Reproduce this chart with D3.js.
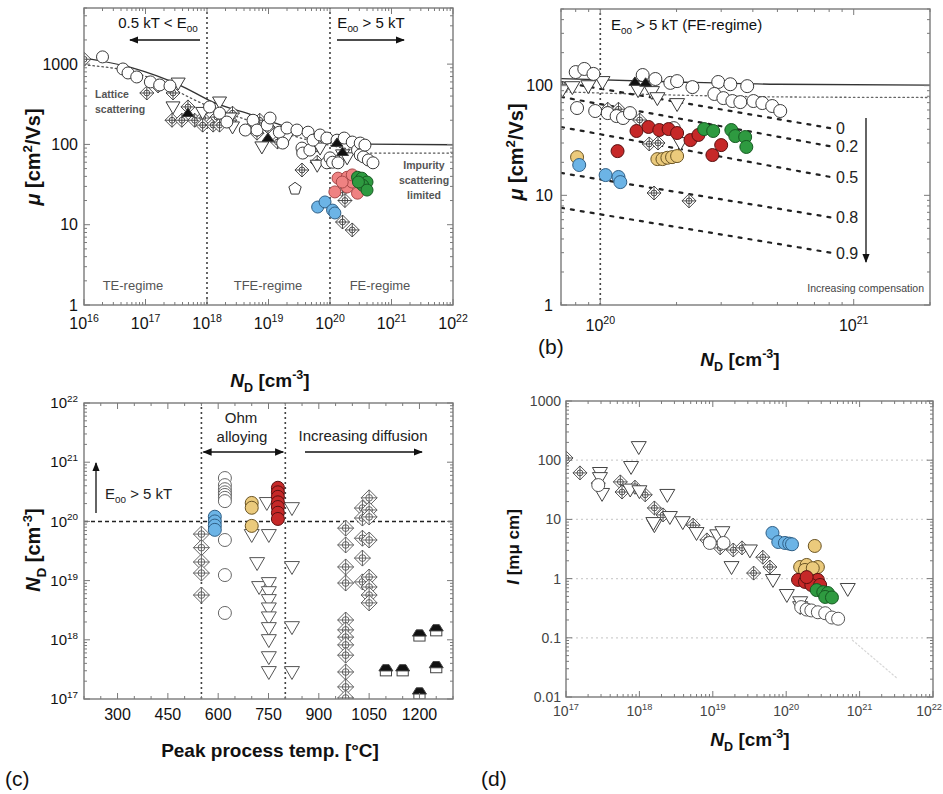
<!DOCTYPE html>
<html>
<head>
<meta charset="utf-8">
<script src="https://cdn.jsdelivr.net/npm/d3@7"></script>
<style>
  body { margin: 0; background: #fff; }
  svg { font-family: "Liberation Sans", Arial, sans-serif; }
</style>
</head>
<body>
<svg id="fig" width="943" height="794"></svg>
<script>
// ---------------- data: (a) mobility vs N_D ----------------
const aCircles = [[2.0e16,1230],[4.3e16,870],[5.2e16,776],[7.2e16,692],[1.2e17,600],[1.7e17,550],[2.5e17,535],
  [1.1e18,293],[1.6e18,245],[2.1e18,190],[4.2e18,151],[5.6e18,200],[6.5e18,151],[9.5e18,174],[1.06e19,213],
  [1.5e19,142],[1.7e19,104],[2.0e19,160],[2.9e19,151],[3.5e19,90],[3.6e19,78],[4.4e19,142],[4.7e19,85],
  [5.3e19,113],[6.9e19,131],[8.9e19,120],[8.9e19,59],[1.0e20,68],[1.1e20,60],[1.3e20,113],[1.35e20,59],
  [1.7e20,120],[2.3e20,107],[2.8e20,85],[3.1e20,104],[3.1e20,74],[3.5e20,70],[3.7e20,98],[4.2e20,64],[5.0e20,59]];
const aTriangles = [[3.4e17,580],[2.8e17,293],[8.5e17,250],[1.6e18,337],[2.35e18,213],[2.6e18,165],[7.8e18,93],
  [2.0e19,123],[6.2e19,55],[6.9e19,90],[1.6e20,74],[1.9e20,68]];
const aDiamonds = [[1.0e16,1150],[1.05e17,437],[1.6e17,535],[2.8e17,437],[2.7e17,200],[3.9e17,200],[4.9e17,293],
  [6.3e17,200],[8.5e17,213],[8.5e17,174],[1.26e18,174],[1.45e18,219],[1.6e18,174],[2.35e18,200],[2.6e18,245],
  [5.6e18,174],[6.5e18,138],[7.2e18,200],[9.8e18,165],[1.4e19,107],[3.5e19,48],[6.2e19,98],[6.2e19,60],
  [1.6e20,27],[1.75e20,20],[1.6e20,10.8],[2.3e20,8.6]];
const aBlackTri = [[4.9e17,245],[9.8e18,120],[1.3e20,104],[1.6e20,80]];
const aPentagon = [[2.7e19,28]];
const aPink = [[1.35e20,38],[1.9e20,39],[1.2e20,25.6],[1.9e20,29.5],[2.8e20,24.7],[2.3e20,34],[1.58e20,34],[2.3e20,41.7]];
const aGreen = [[2.8e20,39],[3.3e20,38],[4.0e20,34],[3.4e20,31],[4.0e20,27],[2.9e20,34]];
const aBlue = [[6.3e19,16.6],[8.3e19,19.2],[1.1e20,15.2],[1.2e20,14]];
const aSolid = [[1e16,1190],[6.3e16,894],[3.6e17,549],[1.25e18,337],[5.6e18,232],[2.0e19,165],[6.9e19,131],
  [2.4e20,107],[4.0e20,101],[1e22,99]];
const aDotted = [[1e16,980],[6e16,800],[1.25e18,284],[5.6e18,190],[2.0e19,135],[6.9e19,104],[2.4e20,85],
  [4.3e20,78],[1e22,78]];
const aRegimes = [1e18, 1e20];

// ---------------- data: (b) zoom on FE regime ----------------
const bCircles = [[8.0e19,133],[8.65e19,142],[9.4e19,128],[8.1e19,62.5],[9.55e19,58.7],[1.07e20,56.2],[1.16e20,52.8],
  [1.23e20,50.7],[1.31e20,56.2],[1.47e20,125],[1.65e20,115],[1.89e20,106],[2.01e20,110],[2.31e20,97],[2.92e20,108],
  [3.26e20,103],[3.8e20,99],[2.82e20,84],[3.06e20,77],[3.32e20,72.4],[3.57e20,70.8],[4.02e20,72.4],[4.36e20,69.4],
  [4.77e20,65.2],[5.13e20,58.7],[1.95e20,41]];
const bTriangles = [[7.1e19,92],[7.76e19,97],[8.97e19,99],[1.02e20,108],[1.41e20,91],[1.6e20,87.5],[1.68e20,77],
  [2.01e20,68],[2.07e20,30]];
const bBlackTri = [[1.37e20,108],[1.51e20,106]];
const bDiamonds = [[7.1e19,95],[1.07e20,61],[1.18e20,61],[1.43e20,48.6],[1.56e20,29.4],[1.69e20,30],[1.63e20,10.5],[2.24e20,8.9]];
const bRed = [[1.39e20,38.6],[1.55e20,42],[1.71e20,39.4],[1.86e20,40.2],[2.01e20,37],[2.27e20,31.9],[2.44e20,35.5],
  [3.0e20,28.7],[2.77e20,23.3],[1.17e20,25.3]];
const bGreen = [[2.57e20,40.2],[2.79e20,38.6],[3.29e20,39.4],[3.41e20,34.7],[3.73e20,34],[3.77e20,27.6]];
const bYellow = [[8.1e19,22.3],[1.68e20,21.4],[1.76e20,21.4],[1.84e20,22],[1.92e20,22.3],[2.01e20,22.8]];
const bBlue = [[8.26e19,18.9],[1.05e20,15.3],[1.18e20,14.7],[1.2e20,13.2]];
const bSolid = [[7e19,116],[2e20,108],[5e20,103],[2e21,101]];
const bDotted = [[7e19,88],[2e20,82],[5e20,79],[2e21,78]];
const compLabels = ['0', '0.2', '0.5', '0.8', '0.9'];
const compN = [7e19, 8.1e20];
const compStart = [108, 79, 42, 16, 7.7];
const compEnd = [41, 28, 14.7, 6.3, 3.0];

// ---------------- data: (c) N_D vs peak process temperature ----------------
const cDiamonds = [[550,6.1e19],[550,3.6e19],[550,2.06e19],[550,1.34e19],[550,5.7e18],
  [980,7.7e19],[980,4.0e19],[980,1.7e19],[980,9.1e18],[980,2.16e18],[980,1.47e18],[980,1.11e18],[980,8.2e17],
  [980,5.5e17],[980,2.86e17],[980,1.6e17],[980,1.04e17],
  [1030,1.68e20],[1030,1.14e20],[1030,5.2e19],[1030,2.4e19],[1030,9.5e18],
  [1050,2.5e20],[1050,1.56e20],[1050,1.19e20],[1050,4.85e19],[1050,1.15e19],[1050,7.8e18],[1050,5.7e18],[1050,4.2e18]];
const cCircles = [[620,5.4e20],[620,4.1e20],[620,3.5e20],[620,3.1e20],[620,2.8e20],[620,2.5e20],[620,2.2e20],
  [620,4.85e19],[620,1.24e19],[620,2.84e18]];
const cTriangles = [[700,5.9e19],[716,1.98e19],[722,7.8e18],[745,2.05e20],[751,5.9e19],[751,9.1e18],[751,6.4e18],
  [751,4.7e18],[751,3.4e18],[751,2.4e18],[751,1.58e18],[751,9.9e17],[751,5.1e17],[751,2.86e17],
  [820,1.68e20],[820,1.7e19],[820,1.64e18],[820,2.86e17]];
const cBlue = [[590,1.2e20],[590,1.0e20],[590,8.5e19],[590,7.2e19]];
const cYellow = [[700,2.05e20],[700,1.7e20],[700,8.4e19]];
const cRed = [[778,3.7e20],[778,3.1e20],[778,2.6e20],[778,2.1e20],[778,1.75e20],[778,1.4e20],[778,1.1e20]];
const cHouses = [[1100,3.1e17],[1150,3.1e17],[1200,1.2e18],[1200,1.26e17],[1250,1.47e18],[1250,3.5e17]];
const cTempTicks = [300, 450, 600, 750, 900, 1050, 1200];
const cWindow = [550, 800];
const cFE = 1e20;

// ---------------- data: (d) resistivity vs N_D ----------------
const dDiamonds = [[1.0e17,109],[1.55e17,61],[2.75e17,41],[5.5e17,43],[5.8e17,29],[8.7e17,35],[1.2e18,26],
  [1.6e18,15.6],[2.1e18,11.9],[5.4e18,8.0],[8.3e18,4.5],[1.26e19,3.3],[1.9e19,3.04],[2.5e19,3.3],[3.6e19,1.24],
  [4.8e19,2.3],[6.0e19,1.57]];
const dTriangles = [[9.8e17,167],[7.7e17,77],[2.9e17,61],[2.9e17,50],[3.1e17,27],[7.5e17,32],[1.0e18,30],
  [2.4e18,26],[1.6e18,8.0],[1.55e18,8.7],[2.6e18,11],[3.9e18,9.0],[6.0e18,5.9],[1.15e19,5.4],[1.35e19,6.1],
  [1.8e19,1.57],[3.2e19,3.0],[6.6e19,0.95],[1.02e20,0.53],[1.55e20,0.33],[1.55e20,0.40],[6.9e20,0.67]];
const dCircles = [[2.75e17,38],[9.1e18,4.0],[1.4e19,4.0],[1.6e20,0.33],[1.9e20,0.30],[2.2e20,0.29],[2.7e20,0.27],
  [3.4e20,0.26],[4.2e20,0.22],[5.1e20,0.21]];
const dBlue = [[6.5e19,5.9],[7.8e19,4.15],[9.6e19,4.0],[1.1e20,3.9],[1.2e20,3.8]];
const dYellow = [[2.45e20,3.56],[1.55e20,1.57],[1.9e20,1.7],[2.7e20,1.57],[1.8e20,1.4],[2.3e20,1.5]];
const dRed = [[1.45e20,0.95],[1.8e20,0.88],[2.7e20,0.95],[2.2e20,0.78],[2.9e20,0.78],[1.9e20,1.06]];
const dGreen = [[2.6e20,0.64],[3.2e20,0.59],[3.7e20,0.57],[3.4e20,0.49],[4.2e20,0.48]];
const dFaint = [[8e20,0.091],[3.2e21,0.021]];
const dGrid = [0.1, 1, 10, 100];

// marker colours
const COL = {
  open:   ['#fff', '#3a3a3a'],
  blue:   ['#6cb4e6', '#2f5f86'],
  pink:   ['#ef8282', '#a84848'],
  red:    ['#c62828', '#5a1010'],
  green:  ['#2e9a40', '#175a22'],
  yellow: ['#ebca7c', '#6a5424']
};
const AXIS = '#7a7a7a';

const svg = d3.select('#fig');
const defs = svg.append('defs');
defs.append('marker').attr('id', 'head')
  .attr('viewBox', '0 0 10 10').attr('refX', 9).attr('refY', 5)
  .attr('markerWidth', 7).attr('markerHeight', 7)
  .attr('orient', 'auto-start-reverse')
  .append('path').attr('d', 'M0,1 L10,5 L0,9 Z').attr('fill', '#111');

// text with italic / sub / sup parts
function rich(t, parts) {
  const fs = +t.attr('font-size');
  let cur = 0;
  parts.forEach(([s, k]) => {
    const off = k === 'sup' ? -0.42 : k === 'sub' ? 0.28 : 0;
    const ts = t.append('tspan').text(s).attr('dy', (off - cur) * fs);
    cur = off;
    if (k === 'sup' || k === 'sub') ts.attr('font-size', fs * 0.66);
    if (k === 'i') ts.attr('font-style', 'italic');
  });
  return t;
}

function label(g, x, y, fs, parts, opts = {}) {
  const t = g.append('text')
    .attr('x', x).attr('y', y)
    .attr('font-size', fs)
    .attr('text-anchor', opts.anchor || 'start')
    .attr('fill', opts.fill || '#111')
    .attr('font-weight', opts.bold ? 'bold' : null);
  if (opts.rotate) {
    t.attr('x', null).attr('y', null).attr('transform', `translate(${x},${y}) rotate(-90)`);
  }
  return rich(t, typeof parts === 'string' ? [[parts, '']] : parts);
}

const isDecade = v => Math.abs(Math.log10(v) - Math.round(Math.log10(v))) < 1e-6;

// frame, inside ticks on all four sides, clipped plot layer
function makePanel(id, box, x, y, xTicks, yTicks) {
  const g = svg.append('g').attr('class', 'panel-' + id);
  defs.append('clipPath').attr('id', 'clip-' + id).append('rect')
    .attr('x', box.l).attr('y', box.t)
    .attr('width', box.r - box.l).attr('height', box.b - box.t);

  const plot = g.append('g').attr('clip-path', `url(#clip-${id})`);
  const ann = g.append('g');

  const tg = g.append('g').attr('stroke', AXIS).attr('stroke-width', 1).attr('fill', 'none');
  const len = v => v.major ? 6 : 3;
  tg.selectAll(null).data(xTicks).join('path')
    .attr('d', d => `M${x(d.v)},${box.b}v${-len(d)}M${x(d.v)},${box.t}v${len(d)}`);
  tg.selectAll(null).data(yTicks).join('path')
    .attr('d', d => `M${box.l},${y(d.v)}h${len(d)}M${box.r},${y(d.v)}h${-len(d)}`);

  g.append('rect')
    .attr('x', box.l).attr('y', box.t)
    .attr('width', box.r - box.l).attr('height', box.b - box.t)
    .attr('fill', 'none').attr('stroke', AXIS).attr('stroke-width', 1.4);

  return { g, plot, ann, x, y, box };
}

const logTicks = s => s.ticks().map(v => ({ v, major: isDecade(v) }));

// marker painters
const paint = {
  circle: (s, r) => s.append('circle').attr('r', r),
  tri: (s, r) => s.append('path').attr('d', `M${-r},${-0.72 * r}L${r},${-0.72 * r}L0,${r}Z`),
  diamond: (s, r) => {
    s.append('path').attr('d', `M0,${-r}L${r},0L0,${r}L${-r},0Z`);
    s.append('circle').attr('r', r * 0.42);
    s.append('path').attr('d', `M${-r},0H${r}M0,${-r}V${r}`).attr('fill', 'none');
  },
  blackTri: (s, r) => s.append('path')
    .attr('d', `M${-r},${0.55 * r}L${r},${0.55 * r}L0,${-0.85 * r}Z`).attr('fill', '#111'),
  house: (s, r) => {
    s.append('rect').attr('x', -0.8 * r).attr('y', 0).attr('width', 1.6 * r).attr('height', 0.85 * r).attr('fill', '#fff');
    s.append('path').attr('d', `M${-r},1L${r},1L${0.45 * r},${-0.75 * r}L${-0.45 * r},${-0.75 * r}Z`).attr('fill', '#111');
  },
  pentagon: (s, r) => s.append('path').attr('d',
    d3.range(5).map(k => {
      const a = -Math.PI / 2 + k * 2 * Math.PI / 5;
      return (k ? 'L' : 'M') + (r * Math.cos(a)).toFixed(2) + ',' + (r * Math.sin(a)).toFixed(2);
    }).join('') + 'Z')
};

function scatter(p, data, kind, r, col, sw = 1) {
  p.plot.append('g')
    .attr('fill', col[0]).attr('stroke', col[1]).attr('stroke-width', sw)
    .selectAll('g').data(data).join('g')
    .attr('transform', d => `translate(${p.x(d[0])},${p.y(d[1])})`)
    .each(function () { paint[kind](d3.select(this), r); });
}

function curve(p, data, stroke, dash, w = 1.3, smooth = true) {
  p.plot.append('path')
    .datum(data)
    .attr('fill', 'none').attr('stroke', stroke).attr('stroke-width', w)
    .attr('stroke-dasharray', dash).attr('stroke-linecap', 'round')
    .attr('d', d3.line().x(d => p.x(d[0])).y(d => p.y(d[1]))
      .curve(smooth ? d3.curveMonotoneX : d3.curveLinear));
}

function vDots(p, v) {
  p.plot.append('line')
    .attr('x1', p.x(v)).attr('x2', p.x(v)).attr('y1', p.box.t).attr('y2', p.box.b)
    .attr('stroke', '#333').attr('stroke-width', 2)
    .attr('stroke-dasharray', '0,5').attr('stroke-linecap', 'round');
}

function arrow(g, x1, y1, x2, y2, both = false) {
  g.append('line')
    .attr('x1', x1).attr('y1', y1).attr('x2', x2).attr('y2', y2)
    .attr('stroke', '#111').attr('stroke-width', 1.3)
    .attr('marker-end', 'url(#head)')
    .attr('marker-start', both ? 'url(#head)' : null);
}

// decade labels 10^n; a label that would run past the page edge is pulled back inside
const xExp = (g, p, vals, yBase, fs, fill) => vals.forEach(v => {
  const px = p.x(v);
  const edge = px + fs * 1.0 > 943;
  label(g, edge ? 942 : px, yBase, fs, [['10', ''], [String(Math.round(Math.log10(v))), 'sup']],
    { anchor: edge ? 'end' : 'middle', fill });
});
const yExp = (g, p, vals, xr, fs, fill) => vals.forEach(v =>
  label(g, xr, p.y(v) + fs * 0.35, fs, [['10', ''], [String(Math.round(Math.log10(v))), 'sup']], { anchor: 'end', fill }));
const yNum = (g, p, vals, xr, fs, fill) => vals.forEach(v =>
  label(g, xr, p.y(v) + fs * 0.36, fs, String(v), { anchor: 'end', fill }));

const NDlabel = [['N', 'i'], ['D', 'sub'], [' [cm', ''], ['-3', 'sup'], [']', '']];

// ======================= (a) =======================
{
  const x = d3.scaleLog().domain([1e16, 1e22]).range([84, 453]);
  const y = d3.scaleLog().domain([1, 5000]).range([305, 8]);
  const p = makePanel('a', { l: 84, r: 453, t: 8, b: 305 }, x, y, logTicks(x), logTicks(y));

  aRegimes.forEach(v => vDots(p, v));
  curve(p, aDotted, '#555', '1.5,3');
  curve(p, aSolid, '#333', null);

  scatter(p, aDiamonds, 'diamond', 7, COL.open, 0.9);
  scatter(p, aTriangles, 'tri', 7, COL.open);
  scatter(p, aCircles, 'circle', 6, COL.open);
  scatter(p, aPentagon, 'pentagon', 6.5, COL.open);
  scatter(p, aBlackTri, 'blackTri', 6, COL.open);
  scatter(p, aBlue, 'circle', 6, COL.blue);
  scatter(p, aPink, 'circle', 6, COL.pink);
  scatter(p, aGreen, 'circle', 6, COL.green);

  const a = p.ann;
  label(a, 158, 28, 15, [['0.5 kT < E', ''], ['00', 'sub']], { anchor: 'middle' });
  arrow(a, 200, 40, 130, 40);
  label(a, 371, 28, 15, [['E', ''], ['00', 'sub'], [' > 5 kT', '']], { anchor: 'middle' });
  arrow(a, 337, 40, 404, 40);
  label(a, 95, 98, 10.5, 'Lattice', { bold: true, fill: '#555' });
  label(a, 95, 113, 10.5, 'scattering', { bold: true, fill: '#555' });
  label(a, 424, 169, 10.5, 'Impurity', { bold: true, fill: '#555', anchor: 'middle' });
  label(a, 424, 184, 10.5, 'scattering', { bold: true, fill: '#555', anchor: 'middle' });
  label(a, 424, 199, 10.5, 'limited', { bold: true, fill: '#555', anchor: 'middle' });
  label(a, 133, 290, 13, 'TE-regime', { anchor: 'middle', fill: '#555' });
  label(a, 268, 290, 13, 'TFE-regime', { anchor: 'middle', fill: '#555' });
  label(a, 380, 290, 13, 'FE-regime', { anchor: 'middle', fill: '#555' });

  yNum(a, p, [1, 10, 100, 1000], 78, 16);
  xExp(a, p, x.ticks().filter(isDecade), 329, 16);
  label(a, 40, 157, 20, [['μ', 'i'], [' [cm', ''], ['2', 'sup'], ['/Vs]', '']], { bold: true, rotate: true, anchor: 'middle' });
  label(a, 270, 387, 19, NDlabel, { bold: true, anchor: 'middle' });
}

// ======================= (b) =======================
{
  const x = d3.scaleLog().domain([7e19, 2e21]).range([561, 930]);
  const y = d3.scaleLog().domain([1, 500]).range([305, 9]);
  const p = makePanel('b', { l: 561, r: 930, t: 9, b: 305 }, x, y, logTicks(x), logTicks(y));

  vDots(p, 1e20);
  curve(p, bDotted, '#666', '1.5,3');
  curve(p, bSolid, '#333', null);
  compLabels.forEach((s, i) =>
    curve(p, [[compN[0], compStart[i]], [compN[1], compEnd[i]]], '#222', '3,7', 2.2, false));

  scatter(p, bDiamonds, 'diamond', 7, COL.open, 0.9);
  scatter(p, bTriangles, 'tri', 7.5, COL.open);
  scatter(p, bCircles, 'circle', 6.5, COL.open);
  scatter(p, bBlackTri, 'blackTri', 6, COL.open);
  scatter(p, bRed, 'circle', 6.5, COL.red);
  scatter(p, bGreen, 'circle', 6.5, COL.green);
  scatter(p, bYellow, 'circle', 6.5, COL.yellow);
  scatter(p, bBlue, 'circle', 6.5, COL.blue);

  const a = p.ann;
  compLabels.forEach((s, i) => label(a, 836, y(compEnd[i]) + 6, 16, s, { fill: '#222' }));
  arrow(a, 866, 118, 866, 262);
  label(a, 924, 292, 10.5, 'Increasing compensation', { anchor: 'end', fill: '#444' });
  label(a, 611, 30, 15, [['E', ''], ['00', 'sub'], [' > 5 kT (FE-regime)', '']]);

  yNum(a, p, [1, 10, 100], 553, 16);
  xExp(a, p, [1e20, 1e21], 331, 16);
  label(a, 523, 152, 20, [['μ', 'i'], [' [cm', ''], ['2', 'sup'], ['/Vs]', '']], { bold: true, rotate: true, anchor: 'middle' });
  label(a, 740, 366, 19, NDlabel, { bold: true, anchor: 'middle' });
  label(a, 538, 354, 21, '(b)');
}

// ======================= (c) =======================
{
  const x = d3.scaleLinear().domain([200, 1300]).range([84, 453]);
  const y = d3.scaleLog().domain([1e17, 1e22]).range([699, 403]);
  const xt = d3.range(200, 1301, 50).map(v => ({ v, major: cTempTicks.includes(v) }));
  const p = makePanel('c', { l: 84, r: 453, t: 403, b: 699 }, x, y, xt, logTicks(y));

  p.plot.append('line')
    .attr('x1', p.box.l).attr('x2', p.box.r).attr('y1', y(cFE)).attr('y2', y(cFE))
    .attr('stroke', '#222').attr('stroke-width', 1.5).attr('stroke-dasharray', '4,3');
  cWindow.forEach(v => vDots(p, v));

  scatter(p, cDiamonds, 'diamond', 8, ['#fff', '#555'], 0.9);
  scatter(p, cCircles, 'circle', 6.5, ['#fff', '#666']);
  scatter(p, cTriangles, 'tri', 7.5, ['#fff', '#555']);
  scatter(p, cHouses, 'house', 7, ['#fff', '#444']);
  scatter(p, cBlue, 'circle', 6.5, COL.blue);
  scatter(p, cYellow, 'circle', 6.5, COL.yellow);
  scatter(p, cRed, 'circle', 6.5, COL.red);

  const a = p.ann;
  label(a, 241, 423, 15, 'Ohm', { anchor: 'middle', fill: '#222' });
  label(a, 242, 442, 15, 'alloying', { anchor: 'middle', fill: '#222' });
  arrow(a, x(cWindow[0]) + 2, 452, x(cWindow[1]) - 2, 452, true);
  label(a, 363, 441, 15, 'Increasing diffusion', { anchor: 'middle', fill: '#222' });
  arrow(a, 305, 452, 422, 452);
  label(a, 105, 499, 15, [['E', ''], ['00', 'sub'], [' > 5 kT', '']], { fill: '#222' });
  arrow(a, 96, 513, 96, 463);

  yExp(a, p, y.ticks().filter(isDecade), 78, 15);
  cTempTicks.forEach(v => label(a, x(v), 720, 16, String(v), { anchor: 'middle' }));
  label(a, 40, 550, 20, NDlabel, { bold: true, rotate: true, anchor: 'middle' });
  label(a, 270, 757, 19, 'Peak process temp. [°C]', { bold: true, anchor: 'middle' });
  label(a, 5, 786, 21, '(c)');
}

// ======================= (d) =======================
{
  const x = d3.scaleLog().domain([1e17, 1e22]).range([566, 933]);
  const y = d3.scaleLog().domain([0.01, 1000]).range([697, 401]);
  const p = makePanel('d', { l: 566, r: 933, t: 401, b: 697 }, x, y, logTicks(x), logTicks(y));

  p.plot.append('g').selectAll('line').data(dGrid).join('line')
    .attr('x1', p.box.l).attr('x2', p.box.r).attr('y1', d => y(d)).attr('y2', d => y(d))
    .attr('stroke', '#cfcfcf').attr('stroke-width', 1.2).attr('stroke-dasharray', '2,3');
  curve(p, dFaint, '#d6d6d6', '1.5,2.5', 1.2, false);

  scatter(p, dDiamonds, 'diamond', 7, ['#fff', '#444'], 0.9);
  scatter(p, dTriangles, 'tri', 7.5, ['#fff', '#444']);
  scatter(p, dCircles, 'circle', 6.5, ['#fff', '#555']);
  scatter(p, dBlue, 'circle', 6.5, COL.blue);
  scatter(p, dYellow, 'circle', 6.5, COL.yellow);
  scatter(p, dRed, 'circle', 6.5, COL.red);
  scatter(p, dGreen, 'circle', 6.5, COL.green);

  const a = p.ann;
  yNum(a, p, [0.01, 0.1, 1, 10, 100, 1000], 561, 14, '#444');
  xExp(a, p, x.ticks().filter(isDecade), 716, 14, '#444');
  label(a, 519, 547, 17, [['I', 'i'], [' [mμ cm]', '']], { bold: true, rotate: true, anchor: 'middle' });
  label(a, 750, 746, 19, NDlabel, { bold: true, anchor: 'middle' });
  label(a, 481, 786, 21, '(d)');
}
</script>
</body>
</html>
